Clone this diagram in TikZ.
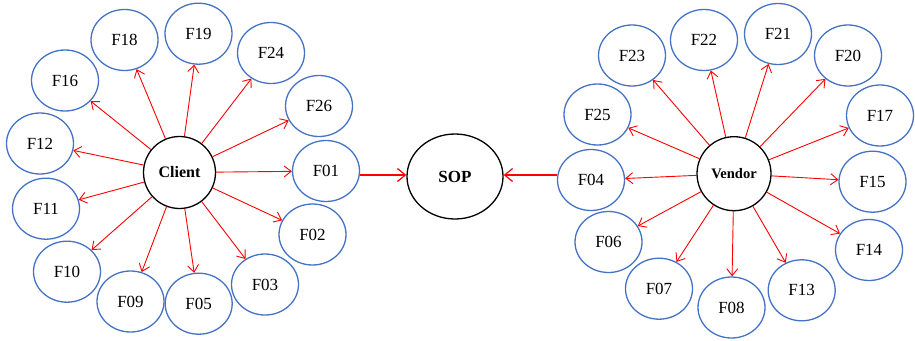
\documentclass[tikz,border=0pt]{standalone}
\usepackage{fontspec}
\setmainfont{Liberation Serif}
\usetikzlibrary{shapes.geometric,arrows.meta}
\definecolor{eblue}{RGB}{68,114,196}
\begin{document}
\begin{tikzpicture}[x=1pt,y=-1pt,
  fnode/.style={ellipse,draw=eblue,line width=1.3pt,minimum width=67pt,minimum height=61pt,inner sep=0pt,font=\fontsize{17}{19}\selectfont},
  hub/.style={ellipse,draw=black,line width=1.3pt,inner sep=0pt,font=\bfseries},
  arr/.style={draw=red,line width=0.9pt,-{Straight Barb[length=7pt,width=11pt]}},
  bigarr/.style={draw=red,line width=2pt,-{Straight Barb[length=8pt,width=13pt,line width=1.2pt]}}]
\useasboundingbox (0,0) rectangle (915,340);
% hubs
\node[hub,minimum width=72pt,minimum height=72pt,font=\bfseries\fontsize{16}{18}\selectfont] (client) at (179.5,172.5) {Client};
\node[hub,minimum width=74pt,minimum height=74pt,font=\bfseries\fontsize{14.5}{17}\selectfont] (vendor) at (734,173.7) {Vendor};
\node[hub,minimum width=96pt,minimum height=85pt,font=\bfseries\fontsize{17}{19}\selectfont] (sop) at (455,176.5) {SOP};
% client side
\node[fnode] (F18) at (124.5,40) {F18};
\node[fnode] (F19) at (198.5,33.7) {F19};
\node[fnode] (F24) at (271,53) {F24};
\node[fnode] (F16) at (65,80.5) {F16};
\node[fnode] (F26) at (319,106) {F26};
\node[fnode] (F12) at (40,143.5) {F12};
\node[fnode] (F01) at (326,171) {F01};
\node[fnode] (F11) at (46,208.7) {F11};
\node[fnode] (F02) at (312.5,234.5) {F02};
\node[fnode] (F10) at (67,271.7) {F10};
\node[fnode] (F03) at (265,284.5) {F03};
\node[fnode] (F09) at (130.5,301.5) {F09};
\node[fnode] (F05) at (198.7,303.7) {F05};
% vendor side
\node[fnode] (F23) at (632,55.5) {F23};
\node[fnode] (F22) at (704,40) {F22};
\node[fnode] (F21) at (778,34) {F21};
\node[fnode] (F20) at (848,55.5) {F20};
\node[fnode] (F25) at (597.5,114.5) {F25};
\node[fnode] (F17) at (880,115.5) {F17};
\node[fnode] (F04) at (591,180) {F04};
\node[fnode] (F15) at (872.5,181.7) {F15};
\node[fnode] (F06) at (608.5,242) {F06};
\node[fnode] (F14) at (869,250) {F14};
\node[fnode] (F07) at (659,288.7) {F07};
\node[fnode] (F08) at (731.5,307.5) {F08};
\node[fnode] (F13) at (801.7,290.3) {F13};
% arrows
\foreach \t in {F18,F19,F24,F16,F26,F12,F01,F11,F02,F10,F03,F09,F05}
  \draw[arr] (client) -- (\t);
\foreach \t in {F23,F22,F21,F20,F25,F17,F04,F15,F06,F14,F07,F08,F13}
  \draw[arr] (vendor) -- (\t);
\draw[bigarr] (F01.east |- 0,175) -- (sop.west |- 0,175);
\draw[bigarr] (F04.west |- 0,175) -- (sop.east |- 0,175);
\end{tikzpicture}
\end{document}
